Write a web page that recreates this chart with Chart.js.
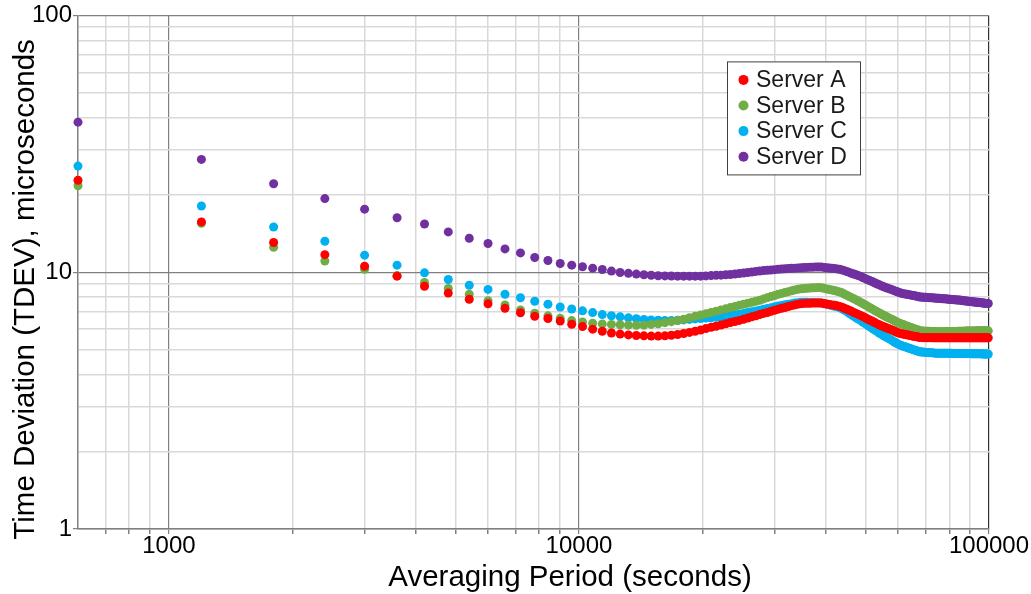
<!DOCTYPE html>
<html>
<head>
<meta charset="utf-8">
<script src="https://cdn.jsdelivr.net/npm/chart.js@4.4.1/dist/chart.umd.min.js"></script>
<style>
  html, body { margin: 0; padding: 0; background: #fff; }
  #wrap { width: 1031px; height: 594px; }
</style>
</head>
<body>
<div id="wrap"><canvas id="tdevChart" width="1031" height="594"></canvas></div>
<script>
// Averaging periods (seconds)
const periods = [
  600, 1200, 1800, 2400, 3000, 3600, 4200, 4800, 5400, 6000,
  6600, 7200, 7800, 8400, 9000, 9600, 10200, 10800, 11400, 12000,
  12600, 13200, 13800, 14400, 15000, 15600, 16200, 16800, 17400, 18000,
  18600, 19200, 19800, 20400, 21000, 21600, 22200, 22800, 23400, 24000,
  24600, 25200, 25800, 26400, 27000, 27600, 28200, 28800, 29400, 30000,
  30600, 31200, 31800, 32400, 33000, 33600, 34200, 34800, 35400, 36000,
  36600, 37200, 37800, 38400, 39000, 39600, 40200, 40800, 41400, 42000,
  42600, 43200, 43800, 44400, 45000, 45600, 46200, 46800, 47400, 48000,
  48600, 49200, 49800, 50400, 51000, 51600, 52200, 52800, 53400, 54000,
  54600, 55200, 55800, 56400, 57000, 57600, 58200, 58800, 59400, 60000,
  60600, 61200, 61800, 62400, 63000, 63600, 64200, 64800, 65400, 66000,
  66600, 67200, 67800, 68400, 69000, 69600, 70200, 70800, 71400, 72000,
  72600, 73200, 73800, 74400, 75000, 75600, 76200, 76800, 77400, 78000,
  78600, 79200, 79800, 80400, 81000, 81600, 82200, 82800, 83400, 84000,
  84600, 85200, 85800, 86400, 87000, 87600, 88200, 88800, 89400, 90000,
  90600, 91200, 91800, 92400, 93000, 93600, 94200, 94800, 95400, 96000,
  96600, 97200, 97800, 98400, 99000, 99600
];

// TDEV, microseconds
const serverA = [
  22.8, 15.7, 13.05, 11.7, 10.55, 9.65, 8.82, 8.29, 7.85, 7.53,
  7.23, 6.95, 6.73, 6.60, 6.45, 6.27, 6.14, 6.00, 5.89, 5.80,
  5.74, 5.70, 5.67, 5.65, 5.64, 5.64, 5.65, 5.68, 5.72, 5.77,
  5.83, 5.89, 5.95, 6.03, 6.10, 6.16, 6.23, 6.30, 6.37, 6.43,
  6.49, 6.56, 6.63, 6.70, 6.77, 6.84, 6.91, 6.97, 7.04, 7.11,
  7.18, 7.24, 7.29, 7.35, 7.41, 7.46, 7.51, 7.54, 7.56, 7.57,
  7.57, 7.58, 7.59, 7.59, 7.58, 7.55, 7.52, 7.49, 7.46, 7.43,
  7.40, 7.36, 7.31, 7.24, 7.17, 7.11, 7.04, 6.97, 6.91, 6.85,
  6.79, 6.72, 6.66, 6.59, 6.53, 6.47, 6.41, 6.35, 6.29, 6.24,
  6.19, 6.15, 6.10, 6.06, 6.02, 5.98, 5.94, 5.90, 5.85, 5.81,
  5.78, 5.76, 5.74, 5.72, 5.71, 5.69, 5.67, 5.65, 5.63, 5.62,
  5.60, 5.59, 5.57, 5.57, 5.56, 5.56, 5.56, 5.56, 5.56, 5.56,
  5.56, 5.55, 5.55, 5.55, 5.55, 5.55, 5.55, 5.55, 5.55, 5.55,
  5.55, 5.55, 5.55, 5.55, 5.55, 5.55, 5.55, 5.55, 5.55, 5.55,
  5.55, 5.55, 5.55, 5.55, 5.55, 5.55, 5.55, 5.55, 5.55, 5.55,
  5.55, 5.55, 5.55, 5.55, 5.55, 5.55, 5.55, 5.55, 5.55, 5.55,
  5.55, 5.55, 5.55, 5.55, 5.55, 5.55
];
const serverB = [
  21.7, 15.5, 12.5, 11.06, 10.27, 9.70, 9.12, 8.64, 8.21, 7.75,
  7.45, 7.13, 6.92, 6.76, 6.61, 6.48, 6.40, 6.33, 6.29, 6.26,
  6.24, 6.22, 6.21, 6.22, 6.26, 6.30, 6.36, 6.42, 6.48, 6.56,
  6.65, 6.73, 6.81, 6.89, 6.97, 7.05, 7.13, 7.20, 7.28, 7.35,
  7.43, 7.50, 7.57, 7.64, 7.71, 7.78, 7.87, 7.96, 8.04, 8.11,
  8.20, 8.27, 8.34, 8.40, 8.46, 8.53, 8.58, 8.62, 8.64, 8.65,
  8.67, 8.69, 8.70, 8.71, 8.70, 8.65, 8.60, 8.56, 8.52, 8.48,
  8.43, 8.38, 8.31, 8.22, 8.13, 8.04, 7.96, 7.88, 7.80, 7.72,
  7.64, 7.55, 7.47, 7.39, 7.31, 7.23, 7.15, 7.08, 7.01, 6.94,
  6.87, 6.81, 6.75, 6.69, 6.63, 6.58, 6.53, 6.47, 6.42, 6.37,
  6.32, 6.28, 6.25, 6.21, 6.17, 6.14, 6.11, 6.08, 6.04, 6.01,
  5.98, 5.95, 5.92, 5.90, 5.90, 5.89, 5.89, 5.89, 5.89, 5.88,
  5.88, 5.87, 5.87, 5.87, 5.86, 5.86, 5.86, 5.86, 5.86, 5.87,
  5.87, 5.87, 5.87, 5.87, 5.88, 5.88, 5.88, 5.88, 5.88, 5.89,
  5.89, 5.89, 5.89, 5.89, 5.89, 5.90, 5.90, 5.90, 5.90, 5.90,
  5.90, 5.90, 5.90, 5.90, 5.90, 5.91, 5.91, 5.91, 5.91, 5.91,
  5.91, 5.91, 5.91, 5.91, 5.91, 5.91
];
const serverC = [
  25.9, 18.1, 15.0, 13.2, 11.65, 10.65, 9.94, 9.37, 8.90, 8.57,
  8.21, 7.95, 7.71, 7.50, 7.32, 7.19, 7.07, 6.96, 6.84, 6.77,
  6.70, 6.64, 6.59, 6.55, 6.52, 6.50, 6.49, 6.49, 6.50, 6.52,
  6.55, 6.58, 6.60, 6.63, 6.65, 6.68, 6.71, 6.75, 6.78, 6.82,
  6.86, 6.91, 6.96, 7.01, 7.06, 7.11, 7.17, 7.22, 7.27, 7.33,
  7.38, 7.42, 7.47, 7.51, 7.54, 7.58, 7.61, 7.63, 7.63, 7.63,
  7.62, 7.62, 7.61, 7.61, 7.59, 7.54, 7.50, 7.46, 7.42, 7.37,
  7.33, 7.28, 7.20, 7.12, 7.02, 6.92, 6.83, 6.73, 6.65, 6.57,
  6.49, 6.40, 6.32, 6.24, 6.16, 6.09, 6.01, 5.94, 5.87, 5.80,
  5.74, 5.67, 5.62, 5.56, 5.51, 5.46, 5.40, 5.35, 5.30, 5.25,
  5.21, 5.18, 5.15, 5.12, 5.10, 5.07, 5.04, 5.02, 4.99, 4.97,
  4.94, 4.92, 4.90, 4.89, 4.89, 4.88, 4.87, 4.87, 4.86, 4.86,
  4.86, 4.85, 4.84, 4.84, 4.83, 4.83, 4.83, 4.83, 4.83, 4.83,
  4.83, 4.83, 4.83, 4.83, 4.83, 4.82, 4.82, 4.82, 4.82, 4.82,
  4.82, 4.82, 4.82, 4.82, 4.82, 4.82, 4.82, 4.82, 4.82, 4.82,
  4.81, 4.81, 4.81, 4.81, 4.81, 4.81, 4.81, 4.81, 4.81, 4.81,
  4.80, 4.80, 4.80, 4.80, 4.80, 4.80
];
const serverD = [
  38.4, 27.5, 22.1, 19.35, 17.6, 16.3, 15.4, 14.35, 13.56, 12.93,
  12.32, 11.89, 11.41, 11.11, 10.81, 10.65, 10.50, 10.37, 10.24, 10.10,
  9.97, 9.90, 9.83, 9.77, 9.73, 9.69, 9.67, 9.66, 9.65, 9.65,
  9.65, 9.65, 9.65, 9.67, 9.70, 9.72, 9.74, 9.77, 9.80, 9.84,
  9.88, 9.93, 9.97, 10.02, 10.07, 10.11, 10.15, 10.17, 10.20, 10.23,
  10.26, 10.29, 10.31, 10.33, 10.36, 10.37, 10.39, 10.41, 10.43, 10.44,
  10.45, 10.46, 10.47, 10.48, 10.47, 10.44, 10.41, 10.38, 10.36, 10.33,
  10.30, 10.27, 10.21, 10.14, 10.06, 9.98, 9.91, 9.84, 9.77, 9.70,
  9.63, 9.54, 9.46, 9.37, 9.30, 9.23, 9.15, 9.08, 9.00, 8.93,
  8.86, 8.80, 8.74, 8.68, 8.63, 8.58, 8.53, 8.47, 8.42, 8.37,
  8.31, 8.28, 8.25, 8.23, 8.21, 8.18, 8.16, 8.14, 8.11, 8.09,
  8.06, 8.04, 8.01, 8.00, 7.99, 7.99, 7.98, 7.97, 7.96, 7.96,
  7.95, 7.94, 7.93, 7.92, 7.91, 7.91, 7.90, 7.89, 7.88, 7.88,
  7.87, 7.86, 7.85, 7.84, 7.83, 7.82, 7.81, 7.81, 7.80, 7.79,
  7.79, 7.78, 7.77, 7.75, 7.74, 7.73, 7.72, 7.71, 7.70, 7.69,
  7.68, 7.67, 7.66, 7.65, 7.64, 7.63, 7.63, 7.62, 7.61, 7.60,
  7.59, 7.58, 7.57, 7.56, 7.55, 7.55
];

const seriesNames = ['Server A', 'Server B', 'Server C', 'Server D'];
const seriesColors = ['#ff0000', '#70ad47', '#00b0f0', '#7030a0'];

// Grid / tick values
const xTickValues = [700, 800, 900, 1000, 2000, 3000, 4000, 5000, 6000, 7000, 8000, 9000,
  10000, 20000, 30000, 40000, 50000, 60000, 70000, 80000, 90000, 100000];
const xTickLabels = [1000, 10000, 100000];
const yTickValues = [1, 2, 3, 4, 5, 6, 7, 8, 9, 10, 20, 30, 40, 50, 60, 70, 80, 90, 100];
const yTickLabels = [1, 10, 100];

const xTitle = 'Averaging Period (seconds)';
const yTitle = 'Time Deviation (TDEV), microseconds';

const FONT = '"Liberation Sans", Arial, sans-serif';

const toPoints = (ys) => periods.map((p, i) => ({ x: p, y: ys[i] }));

// Boxed legend inside the plot, like the original
const boxLegend = {
    id: 'boxLegend',
    afterDatasetsDraw(chart) {
        const { ctx, chartArea } = chart;
        const x = chartArea.left + 649;
        const y = chartArea.top + 46;
        const w = 133, h = 113;
        ctx.save();
        ctx.fillStyle = '#fff';
        ctx.fillRect(x, y, w, h);
        ctx.strokeStyle = '#404040';
        ctx.lineWidth = 1;
        ctx.strokeRect(x + 0.5, y + 0.5, w, h);
        ctx.font = '23px ' + FONT;
        ctx.textBaseline = 'middle';
        chart.data.datasets.forEach((ds, i) => {
            const cy = y + 18.5 + i * 25.6;
            ctx.beginPath();
            ctx.arc(x + 16.5, cy, 5, 0, Math.PI * 2);
            ctx.fillStyle = ds.backgroundColor;
            ctx.fill();
            ctx.fillStyle = '#1a1a1a';
            ctx.fillText(ds.label, x + 29, cy + 1);
        });
        ctx.restore();
    }
};

// Axis titles sit off-centre in the original, so place them by hand
const axisTitles = {
    id: 'axisTitles',
    afterDraw(chart) {
        const { ctx, chartArea } = chart;
        ctx.save();
        ctx.fillStyle = '#000';
        ctx.font = '29.5px ' + FONT;
        ctx.textAlign = 'center';
        ctx.textBaseline = 'alphabetic';
        ctx.fillText(xTitle, chartArea.left + 492, chartArea.bottom + 57);
        ctx.translate(34, chartArea.top + 274);
        ctx.rotate(-Math.PI / 2);
        ctx.fillText(yTitle, 0, 0);
        ctx.restore();
    }
};

const datasets = [serverA, serverB, serverC, serverD].map((ys, i) => ({
    label: seriesNames[i],
    data: toPoints(ys),
    backgroundColor: seriesColors[i],
    borderWidth: 0,
    pointRadius: 4.5,
    pointBorderWidth: 0,
    showLine: false,
    clip: false
}));

const majorColor = '#808080';
const minorColor = '#d9d9d9';

new Chart(document.getElementById('tdevChart').getContext('2d'), {
    type: 'scatter',
    data: { datasets },
    options: {
        responsive: false,
        animation: false,
        layout: { padding: { left: 0, right: 42, top: 15, bottom: 0 } },
        plugins: {
            legend: { display: false },
            tooltip: { enabled: false }
        },
        scales: {
            x: {
                type: 'logarithmic',
                min: 600,
                max: 100000,
                afterBuildTicks: (scale) => { scale.ticks = xTickValues.map(v => ({ value: v })); },
                afterFit: (scale) => { scale.height = 65; },
                ticks: {
                    autoSkip: false,
                    maxRotation: 0,
                    padding: 0,
                    color: '#000',
                    font: { family: FONT, size: 24, lineHeight: 1.0 },
                    callback: (v) => xTickLabels.includes(v) ? String(v) : ''
                },
                grid: {
                    color: (c) => xTickLabels.includes(c.tick && c.tick.value) ? (c.tick.value === 100000 ? '#333' : majorColor) : minorColor,
                    lineWidth: (c) => xTickLabels.includes(c.tick && c.tick.value) ? 1.2 : 1.5,
                    tickColor: majorColor,
                    tickLength: 5
                },
                border: { color: majorColor, width: 1.5 },
                title: { display: false }
            },
            y: {
                type: 'logarithmic',
                min: 1,
                max: 100,
                afterBuildTicks: (scale) => { scale.ticks = yTickValues.map(v => ({ value: v })); },
                afterFit: (scale) => { scale.width = 78; },
                ticks: {
                    autoSkip: false,
                    padding: 1,
                    color: '#000',
                    font: { family: FONT, size: 24 },
                    callback: (v) => yTickLabels.includes(v) ? String(v) : ''
                },
                grid: {
                    color: (c) => yTickLabels.includes(c.tick && c.tick.value) ? majorColor : minorColor,
                    lineWidth: (c) => yTickLabels.includes(c.tick && c.tick.value) ? 1.2 : 1.5,
                    tickColor: (c) => yTickLabels.includes(c.tick && c.tick.value) ? majorColor : 'rgba(0,0,0,0)',
                    tickLength: 5
                },
                border: { color: majorColor, width: 1.5 },
                title: { display: false }
            }
        }
    },
    plugins: [boxLegend, axisTitles]
});
</script>
</body>
</html>
